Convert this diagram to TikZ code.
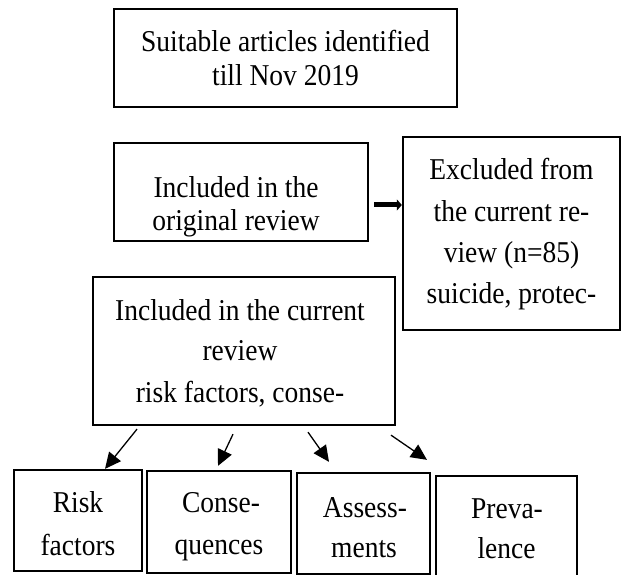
\documentclass[tikz,border=0pt]{standalone}
\usepackage{fontspec}
\usepackage{graphicx}
\setmainfont{Liberation Serif}
\usetikzlibrary{arrows.meta}
\newcommand{\vstr}[1]{\scalebox{1}[1.1]{#1}}
\begin{document}
\begin{tikzpicture}[x=1pt,y=-1pt,
  box/.style={draw=black, line width=2.3pt, inner sep=0pt},
  txt/.style={font=\fontsize{27.5}{33}\selectfont, inner sep=0pt, anchor=base},
  down/.style={line width=1.3pt, -{Triangle[length=16pt,width=15pt]}},
  mainarrow/.style={line width=5pt, -{Triangle[length=5pt,width=11pt]}}
]
\useasboundingbox (0,0) rectangle (627,575);

% boxes
\node[box, minimum width=343pt, minimum height=98pt] (s) at (285.5,58) {};
\node[box, minimum width=254pt, minimum height=98pt] (o) at (241,192) {};
\node[box, minimum width=217pt, minimum height=193pt] (ex) at (511.5,233.5) {};
\node[box, minimum width=302pt, minimum height=148pt] (cur) at (244,351) {};
\node[box, minimum width=128pt, minimum height=101pt] (risk) at (78,520.5) {};
\node[box, minimum width=144pt, minimum height=102pt] (con) at (219,522) {};
\node[box, minimum width=133pt, minimum height=101pt] (ass) at (363.5,523.5) {};
\node[box, minimum width=141pt, minimum height=104pt] (prev) at (506.5,528) {};

% texts
\node[txt] (s1) at (285.5,52) {\vstr{Suitable articles identified}};
\node[txt] (s2) at (285.5,86) {\vstr{till Nov 2019}};
\node[txt] (o1) at (236,197) {\vstr{Included in the}};
\node[txt] (o2) at (236,230) {\vstr{original review}};
\node[txt] (e1) at (511.5,180) {\vstr{Excluded from}};
\node[txt] (e2) at (511.5,222) {\vstr{the current re-}};
\node[txt] (e3) at (511.5,262) {\vstr{view (n=85)}};
\node[txt] (e4) at (511.5,303) {\vstr{suicide, protec-}};
\node[txt] (c1) at (240,320) {\vstr{Included in the current}};
\node[txt] (c2) at (240,360) {\vstr{review}};
\node[txt] (c3) at (240,402) {\vstr{risk factors, conse-}};
\node[txt] (r1) at (78,512) {\vstr{Risk}};
\node[txt] (r2) at (78,555) {\vstr{factors}};
\node[txt] (q1) at (221,512) {\vstr{Conse-}};
\node[txt] (q2) at (219,554) {\vstr{quences}};
\node[txt] (a1) at (365,517) {\vstr{Assess-}};
\node[txt] (a2) at (364,557) {\vstr{ments}};
\node[txt] (p1) at (507,518) {\vstr{Preva-}};
\node[txt] (p2) at (506.5,558) {\vstr{lence}};

% connectors
\draw[mainarrow] ([shift={(5,13)}]o.east) -- ([shift={(0,-28.5)}]ex.west);
\draw[down] ([shift={(-107,3)}]cur.south) -- ([shift={(27,0)}]risk.north);
\draw[down] ([shift={(-11,8)}]cur.south) -- ([shift={(-1,-4)}]con.north);
\draw[down] ([shift={(64,6)}]cur.south) -- ([shift={(-34.5,-10)}]ass.north);
\draw[down] ([shift={(147,9)}]cur.south) -- ([shift={(-79.5,-15)}]prev.north);
\end{tikzpicture}
\end{document}
